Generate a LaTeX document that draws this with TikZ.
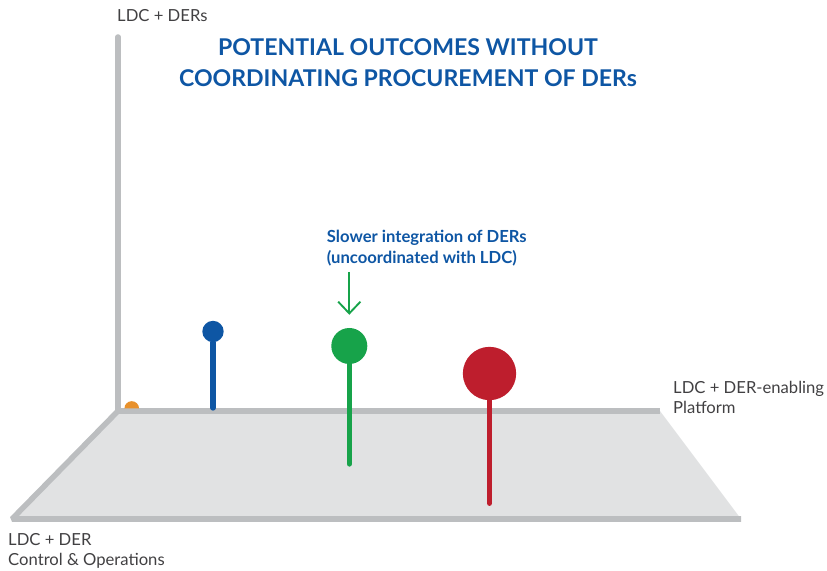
\documentclass[tikz,border=0pt]{standalone}
\usepackage{fontspec}
\setmainfont{Lato}
\usepackage{tikz}
\usetikzlibrary{arrows.meta,calc}
\definecolor{AxisGrey}{HTML}{BCBEC0}
\definecolor{FloorGrey}{HTML}{E1E2E3}
\definecolor{LabelGrey}{HTML}{414042}
\definecolor{OutcomeBlue}{HTML}{0E56A4}
\definecolor{OutcomeGreen}{HTML}{17A34A}
\definecolor{OutcomeRed}{HTML}{BE1E2D}
\definecolor{OutcomeOrange}{HTML}{E8912C}

\begin{document}
\begin{tikzpicture}[x=0.03cm,y=-0.03cm,
    axisline/.style={line width=4.7pt,color=AxisGrey},
    stem/.style={line width=4.5pt,line cap=round},
    ball/.style={circle,fill,inner sep=0pt},
    axislabel/.style={anchor=north west,inner sep=0pt,text=LabelGrey,align=left,font=\fontsize{14.2}{17}\selectfont},
    bluetext/.style={inner sep=0pt,text=OutcomeBlue}]
    \useasboundingbox (0,0) rectangle (827,571);

    \coordinate (O) at (118,411);
    \coordinate (top) at (118,37);
    \coordinate (backright) at (660,411);
    \coordinate (frontright) at (741,519);
    \coordinate (frontleft) at (12,519);

    \fill[FloorGrey] (O) -- (backright) -- (frontright) -- (frontleft) -- cycle;
    \draw[axisline,line join=bevel] (O) -- (frontleft) -- (frontright);
    \draw[axisline] (O) -- (backright);
    \draw[axisline,line cap=round] (top) -- (O);

    \fill[OutcomeOrange] (124.4,408.5) arc[start angle=180,end angle=0,radius=0.22cm];

    \node[ball,OutcomeBlue,minimum size=0.64cm] (blueball) at (213,331.5) {};
    \coordinate (bluefoot) at (213,408);
    \draw[stem,OutcomeBlue] (blueball) -- (bluefoot);

    \node[ball,OutcomeGreen,minimum size=1.08cm] (greenball) at (349.3,346) {};
    \coordinate (greenfoot) at (349.3,464);
    \draw[stem,OutcomeGreen] (greenball) -- (greenfoot);

    \node[ball,OutcomeRed,minimum size=1.6cm] (redball) at (489.5,373.5) {};
    \coordinate (redfoot) at (489.5,503.3);
    \draw[stem,OutcomeRed] (redball) -- (redfoot);

    \coordinate (arrowtop) at (349.3,272);
    \draw[OutcomeGreen,line width=1.6pt,shorten >=0.39cm,-{Straight Barb[length=10pt,width=19pt]}] (arrowtop) -- (greenball);

    \node[bluetext,anchor=north,align=center,font=\bfseries\fontsize{19.7}{26.5}\selectfont] (title) at (408,38.3) {POTENTIAL OUTCOMES WITHOUT\\COORDINATING PROCUREMENT OF DERs};
    \node[bluetext,anchor=north west,align=left,font=\bfseries\fontsize{14.2}{17.9}\selectfont] (note) at (326.7,230) {Slower integration of DERs\\(uncoordinated with LDC)};

    \node[axislabel] (ylabel) at (117,9.3) {LDC + DERs};
    \node[axislabel] (xlabel) at (673,380.7) {LDC + DER-enabling\\Platform};
    \node[axislabel] (zlabel) at (8,533.3) {LDC + DER\\Control \& Operations};
\end{tikzpicture}
\end{document}
